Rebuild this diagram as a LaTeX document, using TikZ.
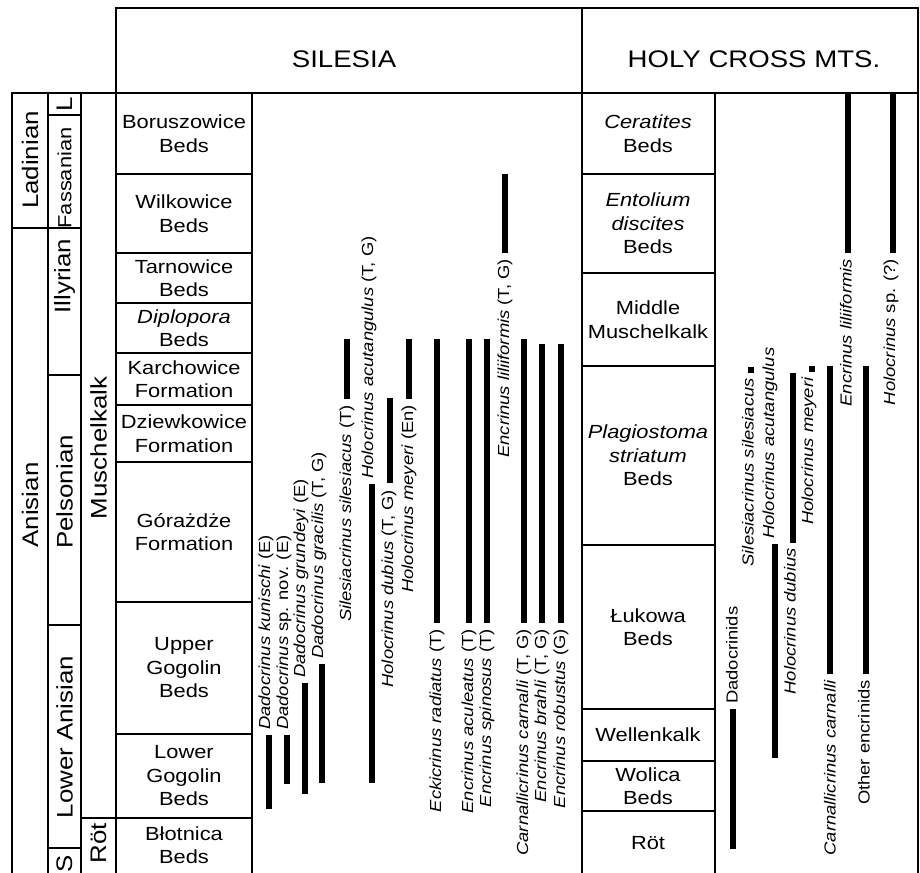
\documentclass[tikz,border=0pt]{standalone}
\usepackage{fontspec}
\setmainfont[FakeStretch=1.15]{Liberation Sans}
\begin{document}
\begin{tikzpicture}[x=1pt,y=-1pt,
  grid/.style={line width=1.3pt, line cap=rect},
  bar/.style={line width=6pt},
  bed/.style={font=\fontsize{19}{23.5}\selectfont, align=center, inner sep=0pt},
  stage/.style={font=\fontsize{22.5}{26}\selectfont, rotate=90, inner sep=0pt},
  head/.style={font=\fontsize{24}{28}\selectfont, inner sep=0pt},
  spup/.style={font=\fontsize{16}{18}\selectfont, rotate=90, inner sep=0pt, anchor=west},
  spdn/.style={font=\fontsize{16}{18}\selectfont, rotate=90, inner sep=0pt, anchor=east}]
\useasboundingbox (0,0) rectangle (920,872);
% frame
\draw[grid] (116,8) -- (918,8);
\draw[grid] (12,93) -- (918,93);
\foreach \xx in {116,582,918} \draw[grid] (\xx,8) -- (\xx,872);
\foreach \xx in {12,48,81,252,715} \draw[grid] (\xx,93) -- (\xx,872);
\draw[grid] (12,228) -- (81,228);
\foreach \yy in {115,375,625,848} \draw[grid] (48,\yy) -- (81,\yy);
\draw[grid] (81,818) -- (116,818);
\foreach \yy in {174,253,303,353,405,462,602,734,818} \draw[grid] (116,\yy) -- (252,\yy);
\foreach \yy in {174,273,366,545,709,761,811} \draw[grid] (582,\yy) -- (715,\yy);
% headers
\node[head] (hsil) at (344,59) {SILESIA};
\node[head] (hhc) at (754,59) {HOLY CROSS MTS.};
% stages
\node[stage] (lad) at (30,160) {Ladinian};
\node[stage] (ani) at (30,505) {Anisian};
\node[stage] (ll) at (64.5,104) {L};
\node[stage, font=\fontsize{19}{22}\selectfont] (fas) at (64.5,178) {Fassanian};
\node[stage] (ill) at (64.5,276) {Illyrian};
\node[stage] (pel) at (64.5,492) {Pelsonian};
\node[stage] (lan) at (64.5,737) {Lower Anisian};
\node[stage] (ss) at (64.5,864) {S};
\node[stage] (mus) at (98.5,448) {Muschelkalk};
\node[stage] (rot) at (98.5,843) {Röt};
% Silesia beds
\node[bed] (b1) at (184,133.5) {Boruszowice\\Beds};
\node[bed] (b2) at (184,213.5) {Wilkowice\\Beds};
\node[bed] (b3) at (184,278) {Tarnowice\\Beds};
\node[bed] (b4) at (184,328) {\textit{Diplopora}\\Beds};
\node[bed] (b5) at (184,379) {Karchowice\\Formation};
\node[bed] (b6) at (184,433.5) {Dziewkowice\\Formation};
\node[bed] (b7) at (184,532) {Górażdże\\Formation};
\node[bed] (b8) at (184,668) {Upper\\Gogolin\\Beds};
\node[bed] (b9) at (184,776) {Lower\\Gogolin\\Beds};
\node[bed] (b10) at (184,845) {Błotnica\\Beds};
% Holy Cross beds
\node[bed] (h1) at (648,133.5) {\textit{Ceratites}\\Beds};
\node[bed] (h2) at (648,223.5) {\textit{Entolium}\\\textit{discites}\\Beds};
\node[bed] (h3) at (648,319.5) {Middle\\Muschelkalk};
\node[bed] (h4) at (648,455.5) {\textit{Plagiostoma}\\\textit{striatum}\\Beds};
\node[bed] (h5) at (648,627) {Łukowa\\Beds};
\node[bed] (h6) at (648,735) {Wellenkalk};
\node[bed] (h7) at (648,786) {Wolica\\Beds};
\node[bed] (h8) at (648,843) {Röt};
% Silesia bars
\draw[bar] (269,735) -- (269,809);
\draw[bar] (287,735) -- (287,784);
\draw[bar] (304.5,683) -- (304.5,794);
\draw[bar] (322,664) -- (322,783);
\draw[bar] (347,339) -- (347,399);
\draw[bar] (372,484) -- (372,783);
\draw[bar] (390,398) -- (390,483);
\draw[bar] (409,339) -- (409,399);
\draw[bar] (437,339) -- (437,623);
\draw[bar] (469,339) -- (469,623);
\draw[bar] (487,339) -- (487,623);
\draw[bar] (505,174) -- (505,253);
\draw[bar] (524,339) -- (524,623);
\draw[bar] (542,344) -- (542,623);
\draw[bar] (561,344) -- (561,623);
% Silesia labels
\node[spup] (s1) at (266,730) {\textit{Dadocrinus kunischi} (E)};
\node[spup] (s2) at (284,730) {\textit{Dadocrinus} sp. nov. (E)};
\node[spup] (s3) at (301,678) {\textit{Dadocrinus grundeyi} (E)};
\node[spup] (s4) at (319,659) {\textit{Dadocrinus gracilis} (T, G)};
\node[spdn] (s5) at (347,405) {\textit{Silesiacrinus silesiacus} (T)};
\node[spup] (s6) at (369,479) {\textit{Holocrinus acutangulus} (T, G)};
\node[spdn] (s7) at (389,490) {\textit{Holocrinus dubius} (T, G)};
\node[spdn] (s8) at (409,405) {\textit{Holocrinus meyeri} (En)};
\node[spdn] (s9) at (437,629) {\textit{Eckicrinus radiatus} (T)};
\node[spdn] (s10) at (469,629) {\textit{Encrinus aculeatus} (T)};
\node[spdn] (s11) at (487,629) {\textit{Encrinus spinosus} (T)};
\node[spdn] (s12) at (505,259) {\textit{Encrinus liliiformis} (T, G)};
\node[spdn] (s13) at (524,629) {\textit{Carnallicrinus carnalli} (T, G)};
\node[spdn] (s14) at (542,629) {\textit{Encrinus brahli} (T, G)};
\node[spdn] (s15) at (561,629) {\textit{Encrinus robustus} (G)};
% Holy Cross bars
\draw[bar] (732.5,709) -- (732.5,849);
\draw[bar] (751,367) -- (751,373);
\draw[bar] (774.5,544) -- (774.5,758);
\draw[bar] (793,373) -- (793,543);
\draw[bar] (811.5,366) -- (811.5,372);
\draw[bar] (830,366) -- (830,674);
\draw[bar] (848,94) -- (848,253);
\draw[bar] (866,366) -- (866,674);
\draw[bar] (893,94) -- (893,253);
% Holy Cross labels
\node[spup] (c1) at (732,704) {Dadocrinids};
\node[spdn] (c2) at (748,378) {\textit{Silesiacrinus silesiacus}};
\node[spup] (c3) at (770,539) {\textit{Holocrinus acutangulus}};
\node[spdn] (c4) at (790,548) {\textit{Holocrinus dubius}};
\node[spdn] (c5) at (809,377) {\textit{Holocrinus meyeri}};
\node[spdn] (c6) at (830,680) {\textit{Carnallicrinus carnalli}};
\node[spdn] (c7) at (846,259) {\textit{Encrinus liliiformis}};
\node[spdn] (c8) at (864,680) {Other encrinids};
\node[spdn] (c9) at (891,259) {\textit{Holocrinus} sp. (?)};
\end{tikzpicture}
\end{document}
